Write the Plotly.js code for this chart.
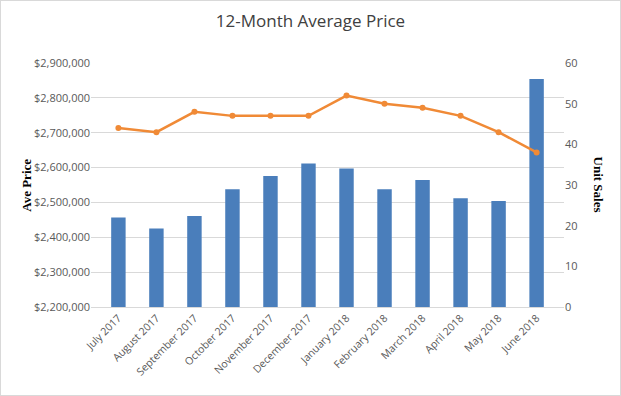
<!DOCTYPE html>
<html>
<head>
<meta charset="utf-8">
<script src="https://cdn.plot.ly/plotly-3.0.1.min.js"></script>
<style>
html,body{margin:0;padding:0;background:#fff;}
#chart{width:619px;height:394px;border:1px solid #d9d9d9;}
</style>
</head>
<body>
<div id="chart"></div>
<script>
const months = ["July 2017","August 2017","September 2017","October 2017","November 2017","December 2017","January 2018","February 2018","March 2018","April 2018","May 2018","June 2018"];
const avePrice = [2457000,2425000,2461000,2538000,2576000,2612000,2597000,2538000,2564000,2512000,2504000,2854000];
const unitSales = [44,43,48,47,47,47,52,50,49,47,43,38];
const priceTicks = [2200000,2300000,2400000,2500000,2600000,2700000,2800000,2900000];
const priceTickText = priceTicks.map(v => "$" + v.toLocaleString("en-US"));
const salesTicks = [0,10,20,30,40,50,60];

const tickFont = {family:"Open Sans, Liberation Sans, sans-serif", size:11, color:"#595959"};
const data = [
  {type:"bar", x:months, y:avePrice, name:"Ave Price", marker:{color:"#4A7EBB"}, yaxis:"y"},
  {type:"scatter", mode:"lines+markers", x:months, y:unitSales, name:"Unit Sales", yaxis:"y2",
   line:{color:"#F08A36", width:2.5}, marker:{color:"#F08A36", size:6}}
];
const layout = {
  width:619, height:394,
  margin:{l:90, r:56, t:62, b:88},
  paper_bgcolor:"#fff", plot_bgcolor:"#fff",
  showlegend:false,
  bargap:0.62,
  title:{text:"12-Month Average Price", x:0.5, xanchor:"center", y:0.95, yanchor:"middle",
         font:{family:"Open Sans, Liberation Sans, sans-serif", size:17, color:"#404040"}},
  xaxis:{tickangle:-45, tickfont:{family:"Open Sans, Liberation Sans, sans-serif", size:10.5, color:"#595959"},
         showgrid:false, showline:true, linecolor:"#d9d9d9", ticks:"", automargin:false},
  yaxis:{range:[2200000,2900000], tickvals:priceTicks, ticktext:priceTickText, tickfont:tickFont,
         showgrid:true, gridcolor:"#d9d9d9", zeroline:false, showline:false, ticks:"", automargin:false},
  yaxis2:{range:[0,60], tickvals:salesTicks, overlaying:"y", side:"right", tickfont:tickFont,
          showgrid:false, zeroline:false, showline:false, ticks:"", automargin:false},
  annotations:[
    {text:"<b>Ave Price</b>", xref:"paper", yref:"paper", x:-0.158, y:0.5, textangle:-90, showarrow:false,
     font:{family:"Liberation Serif, DejaVu Serif, serif", size:13, color:"#000"}},
    {text:"<b>Unit Sales</b>", xref:"paper", yref:"paper", x:1.095, y:0.5, textangle:90, showarrow:false,
     font:{family:"Liberation Serif, DejaVu Serif, serif", size:13, color:"#000"}}
  ]
};
Plotly.newPlot("chart", data, layout, {displayModeBar:false, staticPlot:true});
</script>
</body>
</html>
